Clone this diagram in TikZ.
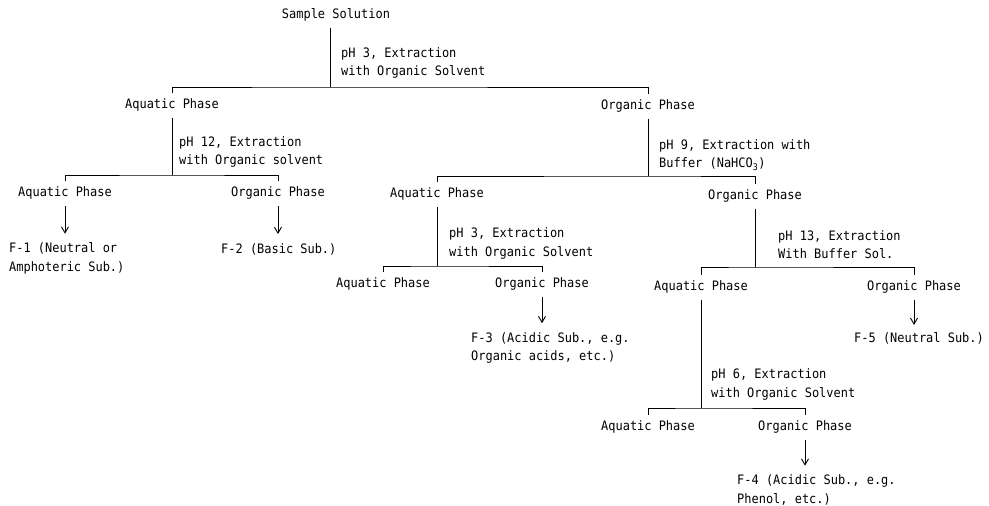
\documentclass[tikz,border=0pt]{standalone}
\usepackage{fontspec}
\setmonofont[FakeStretch=0.92]{DejaVu Sans Mono}
\usetikzlibrary{arrows.meta,calc}
\begin{document}
\begin{tikzpicture}[x=1pt,y=-1pt,
  every node/.style={font=\ttfamily\fontsize{13}{18.5}\selectfont, inner sep=1pt},
  phase/.style={text height=9.5pt,text depth=2pt},
  note/.style={align=left,anchor=west},
  link/.style={line width=0.9pt},
  arr/.style={link,-{Straight Barb[length=6pt,width=7pt]}}]
\useasboundingbox (0,0) rectangle (989,506);

% level 0
\node[phase] (ss) at (336,15) {Sample Solution};
\node[note] (l1) at (340,63) {pH 3, Extraction\\with Organic Solvent};
\coordinate (b1) at (330,87);
\node[phase] (aq1) at (172,105) {Aquatic Phase};
\node[phase] (or1) at (648,106) {Organic Phase};
\draw[link] ($(ss.south -| b1)+(0,6)$) -- (b1);
\draw[link] ($(aq1.north)+(0,-5)$) |- (b1) -| ($(or1.north)+(0,-5)$);

% left branch
\node[note] (l2) at (178,152) {pH 12, Extraction\\with Organic solvent};
\coordinate (b2) at (172,175);
\node[phase] (aq2) at (65,193) {Aquatic Phase};
\node[phase] (or2) at (278,193) {Organic Phase};
\draw[link] ($(aq1.south)+(0,6)$) -- (b2);
\draw[link] ($(aq2.north)+(0,-5)$) |- (b2) -| ($(or2.north)+(0,-5)$);
\node[note] (f1) at (8,258.5) {F-1 (Neutral or\\Amphoteric Sub.)};
\node[note] (f2) at (220,249) {F-2 (Basic Sub.)};
\draw[arr] ($(aq2.south)+(0,6)$) -- ($(aq2.south |- f1.north)+(0,-8)$);
\draw[arr] ($(or2.south)+(0,6)$) -- ($(or2.south |- f2.north)+(0,-8)$);

% right branch
\node[note] (l3) at (658,155) {pH 9, Extraction with\\Buffer (NaHCO\textsubscript{3})};
\coordinate (b3) at (648,176);
\node[phase] (aq3) at (437,194) {Aquatic Phase};
\node[phase] (or3) at (755,196) {Organic Phase};
\draw[link] ($(or1.south)+(0,6)$) -- (b3);
\draw[link] ($(aq3.north)+(0,-5)$) |- (b3) -| ($(or3.north)+(0,-5)$);

% aquatic of pH 9
\node[note] (l4) at (448,243.5) {pH 3, Extraction\\with Organic Solvent};
\coordinate (b4) at (437,266);
\node[phase] (aq4) at (383,284) {Aquatic Phase};
\node[phase] (or4) at (542,284) {Organic Phase};
\draw[link] ($(aq3.south)+(0,6)$) -- (b4);
\draw[link] ($(aq4.north)+(0,-5)$) |- (b4) -| ($(or4.north)+(0,-5)$);
\node[note] (f3) at (470,348) {F-3 (Acidic Sub., e.g.\\Organic acids, etc.)};
\draw[arr] ($(or4.south)+(0,6)$) -- ($(or4.south |- f3.north)+(0,-8)$);

% organic of pH 9
\node[note] (l5) at (777,244.5) {pH 13, Extraction\\With Buffer Sol.};
\coordinate (b5) at (755,267);
\node[phase] (aq5) at (701,287) {Aquatic Phase};
\node[phase] (or5) at (914,287) {Organic Phase};
\draw[link] ($(or3.south)+(0,6)$) -- (b5);
\draw[link] ($(aq5.north)+(0,-5)$) |- (b5) -| ($(or5.north)+(0,-5)$);
\node[note] (f5) at (853,338) {F-5 (Neutral Sub.)};
\draw[arr] ($(or5.south)+(0,6)$) -- ($(or5.south |- f5.north)+(0,-6)$);

% aquatic of pH 13
\node[note] (l6) at (710,384.5) {pH 6, Extraction\\with Organic Solvent};
\coordinate (b6) at (701,408);
\node[phase] (aq6) at (648,427) {Aquatic Phase};
\node[phase] (or6) at (805,427) {Organic Phase};
\draw[link] ($(aq5.south)+(0,6)$) -- (b6);
\draw[link] ($(aq6.north)+(0,-5)$) |- (b6) -| ($(or6.north)+(0,-5)$);
\node[note] (f4) at (736,490) {F-4 (Acidic Sub., e.g.\\Phenol, etc.)};
\draw[arr] ($(or6.south)+(0,6)$) -- ($(or6.south |- f4.north)+(0,-8)$);
\end{tikzpicture}
\end{document}
